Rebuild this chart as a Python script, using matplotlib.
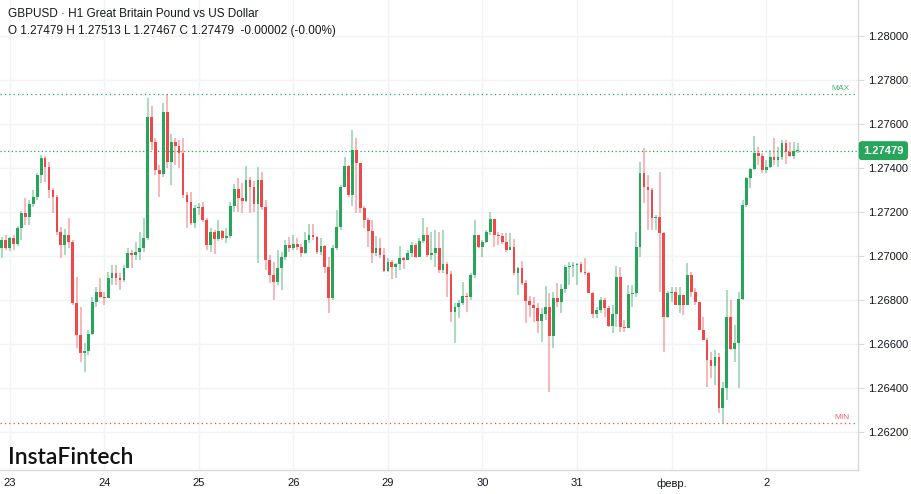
import numpy as np
import matplotlib
matplotlib.use("Agg")
import matplotlib.pyplot as plt
from matplotlib.transforms import blended_transform_factory

plt.rcParams['font.family'] = ['Liberation Sans', 'DejaVu Sans']

# hourly GBPUSD candles (open of the first bar, then close / high / low per bar)
first_open = 1.27037
closes = [
    1.27073, 1.27037, 1.27082, 1.27055, 1.27128, 1.27196, 1.27178, 1.27237, 1.27269, 1.27369,
    1.27446, 1.27405, 1.27300, 1.27269, 1.27110, 1.27050, 1.27096, 1.27064, 1.26787, 1.26641,
    1.26560, 1.26569, 1.26646, 1.26791, 1.26837, 1.26814, 1.26810, 1.26900, 1.26923, 1.26900,
    1.26891, 1.26946, 1.27014, 1.27005, 1.27019, 1.27037, 1.27082, 1.27632, 1.27519, 1.27391,
    1.27373, 1.27655, 1.27428, 1.27519, 1.27500, 1.27469, 1.27278, 1.27246, 1.27150, 1.27219,
    1.27224, 1.27164, 1.27050, 1.27110, 1.27078, 1.27114, 1.27082, 1.27091, 1.27228, 1.27305,
    1.27264, 1.27250, 1.27346, 1.27314, 1.27237, 1.27346, 1.27223, 1.26982, 1.26914, 1.26882,
    1.26946, 1.26996, 1.27050, 1.27037, 1.27055, 1.27041, 1.27014, 1.27073, 1.27096, 1.27087,
    1.27019, 1.27046, 1.26950, 1.26810, 1.27037, 1.27132, 1.27314, 1.27409, 1.27278, 1.27482,
    1.27423, 1.27219, 1.27164, 1.27114, 1.27014, 1.27037, 1.27005, 1.26932, 1.26973, 1.26950,
    1.26964, 1.26991, 1.26982, 1.27014, 1.27050, 1.26996, 1.27069, 1.27096, 1.27005, 1.27014,
    1.27037, 1.26937, 1.26964, 1.26919, 1.26746, 1.26769, 1.26787, 1.26819, 1.26814, 1.26914,
    1.27096, 1.27041, 1.27064, 1.27110, 1.27169, 1.27096, 1.27091, 1.27064, 1.27028, 1.27041,
    1.26923, 1.26946, 1.26878, 1.26796, 1.26778, 1.26764, 1.26705, 1.26737, 1.26769, 1.26637,
    1.26810, 1.26791, 1.26850, 1.26950, 1.26955, 1.26960, 1.26964, 1.26928, 1.26923, 1.26832,
    1.26737, 1.26755, 1.26800, 1.26764, 1.26682, 1.26737, 1.26905, 1.26678, 1.26672, 1.26828,
    1.26832, 1.27041, 1.27378, 1.27314, 1.27300, 1.27173, 1.27178, 1.27105, 1.26723, 1.26832,
    1.26837, 1.26778, 1.26823, 1.26778, 1.26914, 1.26837, 1.26791, 1.26664, 1.26619, 1.26528,
    1.26500, 1.26541, 1.26310, 1.26400, 1.26723, 1.26578, 1.26605, 1.26805, 1.27232, 1.27355,
    1.27396, 1.27469, 1.27455, 1.27391, 1.27405, 1.27450, 1.27437, 1.27450, 1.27514, 1.27473,
    1.27455, 1.27479, 1.27479,
]
highs = [
    1.27087, 1.27096, 1.27087, 1.27096, 1.27137, 1.27205, 1.27264, 1.27255, 1.27300, 1.27378,
    1.27460, 1.27455, 1.27428, 1.27310, 1.27278, 1.27132, 1.27123, 1.27173, 1.27073, 1.26905,
    1.26769, 1.26605, 1.26664, 1.26814, 1.26860, 1.26900, 1.26837, 1.26928, 1.26960, 1.26960,
    1.26923, 1.26960, 1.27037, 1.27028, 1.27064, 1.27110, 1.27173, 1.27719, 1.27682, 1.27537,
    1.27414, 1.27696, 1.27737, 1.27555, 1.27537, 1.27528, 1.27537, 1.27291, 1.27291, 1.27232,
    1.27241, 1.27246, 1.27173, 1.27128, 1.27119, 1.27164, 1.27119, 1.27128, 1.27246, 1.27328,
    1.27355, 1.27332, 1.27409, 1.27360, 1.27341, 1.27405, 1.27382, 1.27255, 1.27005, 1.26973,
    1.27028, 1.27019, 1.27073, 1.27087, 1.27096, 1.27082, 1.27055, 1.27110, 1.27146, 1.27146,
    1.27091, 1.27082, 1.27050, 1.26996, 1.27050, 1.27209, 1.27323, 1.27450, 1.27414, 1.27573,
    1.27537, 1.27423, 1.27228, 1.27173, 1.27164, 1.27091, 1.27082, 1.27037, 1.26991, 1.26982,
    1.26968, 1.27046, 1.26996, 1.27028, 1.27064, 1.27060, 1.27082, 1.27173, 1.27132, 1.27110,
    1.27119, 1.27110, 1.27119, 1.26973, 1.26932, 1.26787, 1.26800, 1.26882, 1.26832, 1.26923,
    1.27164, 1.27096, 1.27073, 1.27119, 1.27200, 1.27169, 1.27110, 1.27105, 1.27105, 1.27105,
    1.27078, 1.26950, 1.26978, 1.26891, 1.26819, 1.26814, 1.26787, 1.26764, 1.26864, 1.26832,
    1.26837, 1.26878, 1.26873, 1.26960, 1.26973, 1.26973, 1.26968, 1.26973, 1.26991, 1.26928,
    1.26837, 1.26769, 1.26814, 1.26810, 1.26773, 1.26778, 1.26955, 1.26950, 1.26710, 1.26869,
    1.26869, 1.27110, 1.27428, 1.27491, 1.27369, 1.27310, 1.27187, 1.27382, 1.27110, 1.26841,
    1.26860, 1.26860, 1.26860, 1.26819, 1.26968, 1.26928, 1.26855, 1.26791, 1.26723, 1.26628,
    1.26564, 1.26573, 1.26560, 1.26428, 1.26846, 1.26800, 1.26687, 1.26837, 1.27255, 1.27360,
    1.27400, 1.27546, 1.27496, 1.27469, 1.27437, 1.27482, 1.27537, 1.27496, 1.27528, 1.27528,
    1.27519, 1.27519, 1.27513,
]
lows = [
    1.26991, 1.27028, 1.27023, 1.27028, 1.27046, 1.27073, 1.27141, 1.27141, 1.27223, 1.27255,
    1.27332, 1.27337, 1.27264, 1.27196, 1.27096, 1.26991, 1.27005, 1.27037, 1.26778, 1.26582,
    1.26519, 1.26473, 1.26550, 1.26641, 1.26769, 1.26810, 1.26778, 1.26810, 1.26869, 1.26869,
    1.26846, 1.26882, 1.26946, 1.26946, 1.26982, 1.26982, 1.27019, 1.27073, 1.27482, 1.27369,
    1.27269, 1.27360, 1.27400, 1.27323, 1.27414, 1.27400, 1.27264, 1.27128, 1.27141, 1.27128,
    1.27187, 1.27155, 1.27028, 1.27019, 1.27010, 1.27070, 1.27073, 1.27060, 1.27082, 1.27200,
    1.27200, 1.27196, 1.27246, 1.27196, 1.27200, 1.26968, 1.27209, 1.26937, 1.26878, 1.26800,
    1.26869, 1.26846, 1.26982, 1.27019, 1.27028, 1.27028, 1.26996, 1.27010, 1.27060, 1.27073,
    1.27010, 1.27005, 1.26923, 1.26741, 1.26800, 1.27028, 1.27119, 1.27314, 1.27269, 1.27228,
    1.27196, 1.27196, 1.27128, 1.27041, 1.26968, 1.27000, 1.26991, 1.26928, 1.26928, 1.26896,
    1.26900, 1.26937, 1.26941, 1.26982, 1.26996, 1.26991, 1.26996, 1.27060, 1.26996, 1.26982,
    1.26950, 1.26923, 1.26923, 1.26814, 1.26700, 1.26605, 1.26719, 1.26778, 1.26746, 1.26800,
    1.26900, 1.27037, 1.26996, 1.27060, 1.27096, 1.27041, 1.27050, 1.27055, 1.27019, 1.27028,
    1.26914, 1.26823, 1.26869, 1.26696, 1.26723, 1.26700, 1.26650, 1.26610, 1.26710, 1.26382,
    1.26582, 1.26769, 1.26741, 1.26832, 1.26869, 1.26905, 1.26869, 1.26923, 1.26914, 1.26832,
    1.26719, 1.26719, 1.26741, 1.26723, 1.26678, 1.26650, 1.26678, 1.26655, 1.26655, 1.26678,
    1.26769, 1.26814, 1.26996, 1.27241, 1.27119, 1.27119, 1.27119, 1.26837, 1.26564, 1.26719,
    1.26791, 1.26778, 1.26741, 1.26732, 1.26778, 1.26814, 1.26778, 1.26664, 1.26619, 1.26405,
    1.26446, 1.26414, 1.26287, 1.26241, 1.26346, 1.26573, 1.26519, 1.26400, 1.26800, 1.27223,
    1.27310, 1.27391, 1.27414, 1.27378, 1.27378, 1.27400, 1.27414, 1.27405, 1.27437, 1.27419,
    1.27450, 1.27441, 1.27467,
]

day_labels = ["23", "24", "25", "26", "29", "30", "31", "февр.", "2"]
first_day_bar = 2      # bars 0 and 1 are the last hours of the 22nd
bars_per_day = 24

last_price = 1.27479
max_price = max(highs)
min_price = min(lows)

up_col = "#26a65b"
down_col = "#f0474b"
text_col = "#131722"
grid_col = "#f0f3f7"

closes = np.array(closes)
highs = np.array(highs)
lows = np.array(lows)
opens = np.concatenate([[first_open], closes[:-1]])
idx = np.arange(len(closes))
up = closes >= opens
colors = np.where(up, up_col, down_col)

fig = plt.figure(figsize=(9.12, 4.94), dpi=100)
ax = fig.add_axes([0, 24 / 494, 858 / 912, 470 / 494])

# wicks, then bodies
ax.vlines(idx, lows, highs, colors=colors, linewidth=1.1, alpha=0.5, zorder=2)
body_low = np.minimum(opens, closes)
body_h = np.maximum(np.abs(closes - opens), 0.000012)
ax.bar(idx, body_h, bottom=body_low, width=0.7, color=colors, linewidth=0, zorder=3)

# reference lines
ax.axhline(max_price, color=up_col, linestyle=(0, (1, 2.5)), linewidth=0.9, zorder=1)
ax.axhline(min_price, color=down_col, linestyle=(0, (1, 2.5)), linewidth=0.9, zorder=1)
ax.axhline(last_price, color=up_col, linestyle=(0, (1, 2)), linewidth=0.9, zorder=1)

ax.set_xlim(-0.45, 217.3)
ax.set_ylim(1.260273, 1.281636)

ytick_vals = np.arange(1.262, 1.2801, 0.002)
ax.set_yticks(ytick_vals)
ax.set_yticklabels(["%.5f" % v for v in ytick_vals])
ax.yaxis.tick_right()
ax.tick_params(axis="y", length=4, color="#d6d9de", labelsize=8, labelcolor=text_col, pad=3)

day_ticks = [first_day_bar + k * bars_per_day for k in range(len(day_labels))]
ax.set_xticks(day_ticks)
ax.set_xticklabels(day_labels)
ax.tick_params(axis="x", length=0, labelsize=8, labelcolor=text_col, pad=6)

ax.grid(True, color=grid_col, linewidth=1.0, zorder=0)
ax.set_axisbelow(True)
for s in ["top", "left"]:
    ax.spines[s].set_visible(False)
for s in ["right", "bottom"]:
    ax.spines[s].set_color("#d6d9de")
    ax.spines[s].set_linewidth(1.0)

tr = blended_transform_factory(ax.transAxes, ax.transData)
ax.text(0.99, max_price + 0.00007, "MAX", transform=tr, ha="right", va="bottom",
        color=up_col, fontsize=6, alpha=0.85)
ax.text(0.99, min_price + 0.00007, "MIN", transform=tr, ha="right", va="bottom",
        color=down_col, fontsize=6, alpha=0.85)
ax.text(1.006, last_price, "%.5f" % last_price, transform=tr, ha="left", va="center",
        color="white", fontsize=8, fontweight="bold", clip_on=False, zorder=10,
        bbox=dict(boxstyle="round,pad=0.4,rounding_size=0.3", fc=up_col, ec="none"))

# header and logo
fig.text(8 / 912, 1 - 14 / 494, "GBPUSD · H1 Great Britain Pound vs US Dollar",
         ha="left", va="center", fontsize=8.5, color=text_col)
fig.text(8 / 912, 1 - 31 / 494,
         "O 1.27479 H 1.27513 L 1.27467 C 1.27479  -0.00002 (-0.00%)",
         ha="left", va="center", fontsize=8.5, color=text_col)
fig.text(8 / 912, 1 - 457 / 494, "InstaFintech", ha="left", va="center",
         fontsize=16.5, color="#111111", family=["Lato", "DejaVu Sans"], fontweight="semibold")

fig.savefig("out.png", dpi=100, facecolor="white")
